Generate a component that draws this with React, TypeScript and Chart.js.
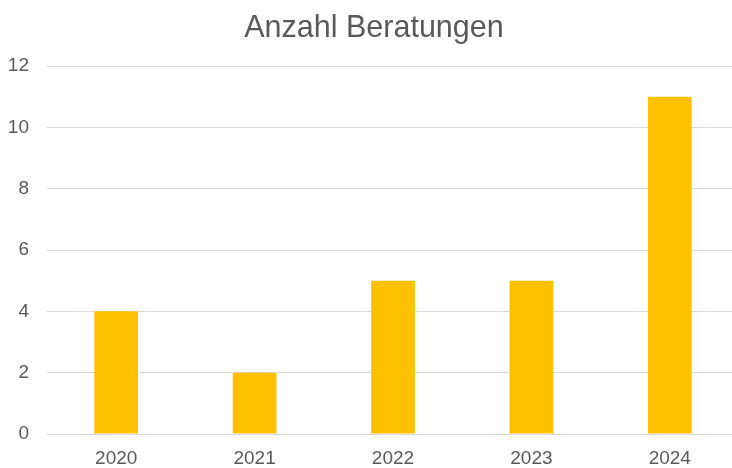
import React, { useEffect, useRef } from "react";
import { Chart, registerables } from "chart.js";

Chart.register(...registerables);

const categories = ["2020", "2021", "2022", "2023", "2024"];
const values = [4, 2, 5, 5, 11];
const chartTitle = "Anzahl Beratungen";
const yMin = 0;
const yMax = 12;
const yStep = 2;

const FONT = "'Liberation Sans', Arial, sans-serif";

export default function App() {
  const ref = useRef<HTMLCanvasElement | null>(null);

  useEffect(() => {
    document.body.style.margin = "0";
    document.body.style.overflow = "hidden";
    if (!ref.current) return;
    const chart = new Chart(ref.current, {
      type: "bar",
      data: {
        labels: categories,
        datasets: [
          {
            data: values,
            backgroundColor: "#FFC000",
            borderWidth: 0,
            barPercentage: 0.316,
            categoryPercentage: 1,
          },
        ],
      },
      options: {
        responsive: false,
        animation: false,
        maintainAspectRatio: false,
        layout: { padding: { left: 9, right: 1, top: 0, bottom: 0 } },
        plugins: {
          legend: { display: false },
          tooltip: { enabled: false },
          title: {
            display: true,
            text: chartTitle,
            color: "#595959",
            font: { family: FONT, size: 30.5, weight: "normal" },
            padding: { top: 10.5, bottom: 18.9 },
          },
        },
        scales: {
          x: {
            grid: { display: false, drawTicks: false },
            border: { display: false },
            ticks: {
              color: "#595959",
              padding: 13,
              font: { family: FONT, size: 19 },
            },
            afterFit: (scale: any) => {
              scale.height = 34;
            },
          },
          y: {
            min: yMin,
            max: yMax,
            grid: { color: "#d9d9d9", lineWidth: 1, drawTicks: false },
            border: { display: false },
            ticks: {
              stepSize: yStep,
              color: "#595959",
              padding: 18,
              font: { family: FONT, size: 19 },
            },
            afterFit: (scale: any) => {
              scale.width = 38;
            },
          },
        },
      },
    });
    return () => chart.destroy();
  }, []);

  return (
    <div style={{ width: 732, height: 468, overflow: "hidden", background: "#fff" }}>
      <canvas ref={ref} width={740} height={468} style={{ display: "block" }} />
    </div>
  );
}
